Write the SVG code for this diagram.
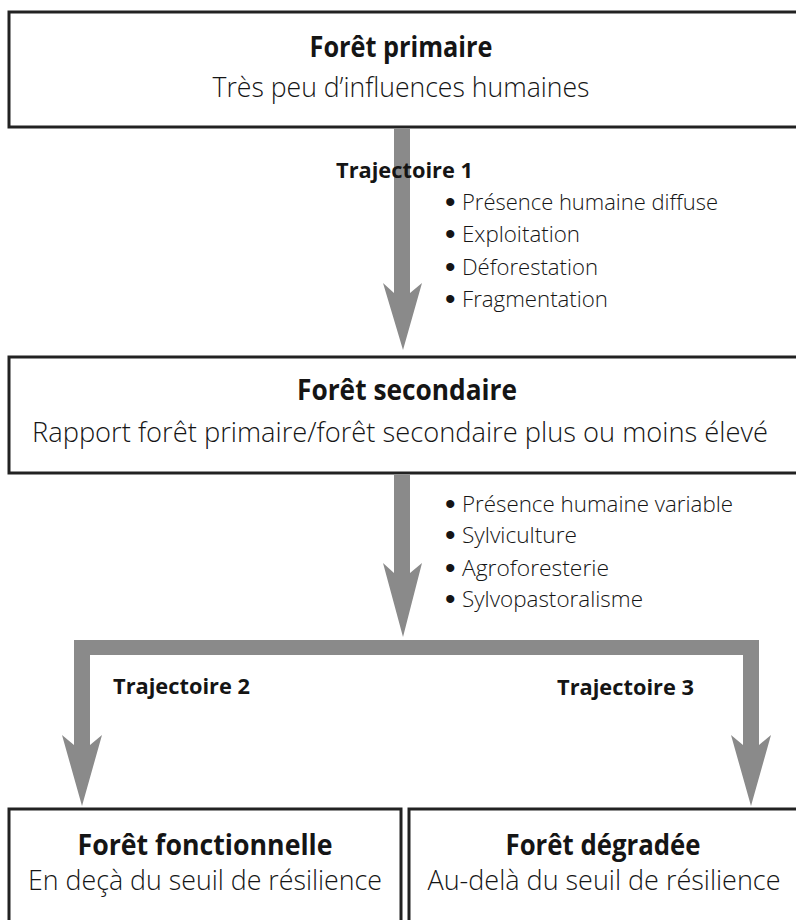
<svg xmlns="http://www.w3.org/2000/svg" width="796" height="920" viewBox="0 0 796 920">
<style>
.box{fill:#fff;stroke:#222;stroke-width:3}
.arr{fill:#8a8a8a}
text{font-family:"Open Sans","Liberation Sans",sans-serif;fill:#151515}
.t{font-weight:bold;font-size:28px;text-anchor:middle}
.s{font-size:27px;text-anchor:middle;font-weight:300}
.lab{font-weight:bold;font-size:21px}
.b{font-size:22px;font-weight:300}
.dot{font-size:30px;font-family:"Liberation Sans",sans-serif}
</style>
<rect width="796" height="920" fill="#fff"/>
<g id="foret-primaire">
<rect class="box" x="9" y="12" width="800" height="115"/>
<text class="t" x="401" y="57" textLength="183" lengthAdjust="spacingAndGlyphs">Forêt primaire</text>
<text class="s" x="401" y="97" textLength="377" lengthAdjust="spacingAndGlyphs">Très peu d’influences humaines</text>
</g>
<g id="foret-secondaire">
<rect class="box" x="9" y="357" width="800" height="116"/>
<text class="t" x="407" y="400" textLength="220" lengthAdjust="spacingAndGlyphs">Forêt secondaire</text>
<text class="s" x="400" y="442" textLength="736" lengthAdjust="spacingAndGlyphs">Rapport forêt primaire/forêt secondaire plus ou moins élevé</text>
</g>
<g id="foret-fonctionnelle">
<rect class="box" x="9" y="809" width="392" height="130"/>
<text class="t" x="205" y="855" textLength="255" lengthAdjust="spacingAndGlyphs">Forêt fonctionnelle</text>
<text class="s" x="205" y="890" textLength="354" lengthAdjust="spacingAndGlyphs">En deçà du seuil de résilience</text>
</g>
<g id="foret-degradee">
<rect class="box" x="409" y="809" width="400" height="130"/>
<text class="t" x="603" y="855" textLength="195" lengthAdjust="spacingAndGlyphs">Forêt dégradée</text>
<text class="s" x="604" y="890" textLength="353" lengthAdjust="spacingAndGlyphs">Au-delà du seuil de résilience</text>
</g>
<g id="connectors">
<polygon class="arr" points="394,128 410,128 410,293 422,283 403,350 383,283 394,293"/>
<polygon class="arr" points="394,475 410,475 410,573 422,563 403,637 383,563 394,573"/>
<polygon class="arr" points="74,640 759,640 759,745 771,735 751,806 731,735 743,745 743,655 90,655 90,745 102,735 82,806 62,735 74,745"/>
</g>
<g id="labels">
<text class="lab" x="336" y="178" textLength="137" lengthAdjust="spacingAndGlyphs">Trajectoire 1</text>
<text class="dot" x="445" y="212">•</text>
<text class="b" x="462" y="210" textLength="256" lengthAdjust="spacingAndGlyphs">Présence humaine diffuse</text>
<text class="dot" x="445" y="244">•</text>
<text class="b" x="462" y="242" textLength="118" lengthAdjust="spacingAndGlyphs">Exploitation</text>
<text class="dot" x="445" y="277">•</text>
<text class="b" x="462" y="275" textLength="136" lengthAdjust="spacingAndGlyphs">Déforestation</text>
<text class="dot" x="445" y="309">•</text>
<text class="b" x="462" y="307" textLength="146" lengthAdjust="spacingAndGlyphs">Fragmentation</text>
<text class="dot" x="445" y="514">•</text>
<text class="b" x="462" y="512" textLength="271" lengthAdjust="spacingAndGlyphs">Présence humaine variable</text>
<text class="dot" x="445" y="545">•</text>
<text class="b" x="462" y="543" textLength="115" lengthAdjust="spacingAndGlyphs">Sylviculture</text>
<text class="dot" x="445" y="578">•</text>
<text class="b" x="462" y="576" textLength="147" lengthAdjust="spacingAndGlyphs">Agroforesterie</text>
<text class="dot" x="445" y="609">•</text>
<text class="b" x="462" y="607" textLength="181" lengthAdjust="spacingAndGlyphs">Sylvopastoralisme</text>
<text class="lab" x="113" y="694" textLength="137" lengthAdjust="spacingAndGlyphs">Trajectoire 2</text>
<text class="lab" x="557" y="695" textLength="137" lengthAdjust="spacingAndGlyphs">Trajectoire 3</text>
</g>
</svg>
